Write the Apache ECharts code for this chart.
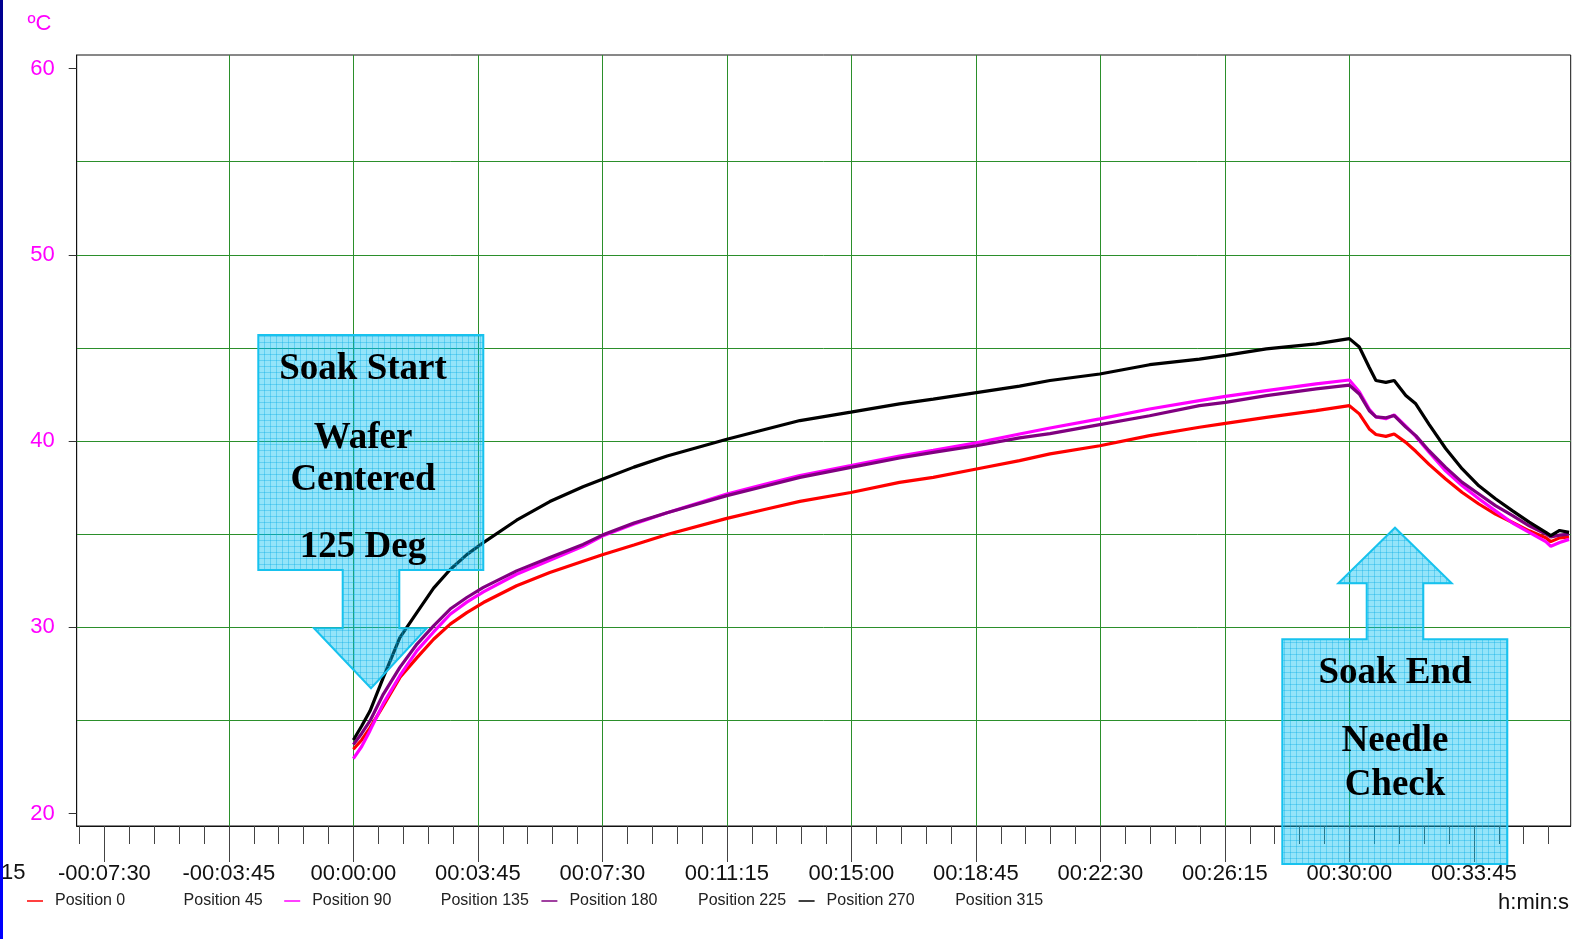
<!DOCTYPE html>
<html><head><meta charset="utf-8">
<script src="https://cdn.jsdelivr.net/npm/echarts@6/dist/echarts.min.js"></script>
<style>html,body{margin:0;padding:0;background:#fff;overflow:hidden;} #c{width:1585px;height:939px;}</style>
</head><body><div id="c"></div>
<script>
// time in seconds relative to soak start
const times = [0, 15, 30, 54, 84, 115, 145, 175, 205, 235, 295, 355, 415, 450, 507, 567, 675, 747, 807, 899, 987, 1048, 1126, 1204, 1259, 1349, 1439, 1529, 1576, 1650, 1740, 1800, 1818, 1836, 1848, 1866, 1881, 1902, 1920, 1944, 1974, 2004, 2034, 2064, 2095, 2125, 2155, 2164, 2180, 2197];
const pos0 = [23.45, 23.95, 24.6, 25.78, 27.3, 28.37, 29.36, 30.17, 30.79, 31.33, 32.23, 32.94, 33.55, 33.9, 34.42, 34.98, 35.85, 36.35, 36.76, 37.24, 37.78, 38.05, 38.5, 38.95, 39.31, 39.75, 40.29, 40.74, 40.95, 41.27, 41.63, 41.9, 41.46, 40.65, 40.35, 40.25, 40.38, 39.93, 39.45, 38.75, 37.96, 37.24, 36.62, 36.08, 35.63, 35.18, 34.81, 34.6, 34.8, 34.85];
const pos90 = [22.95, 23.6, 24.45, 25.9, 27.4, 28.75, 29.75, 30.7, 31.35, 31.9, 32.85, 33.6, 34.35, 34.9, 35.55, 36.15, 37.15, 37.7, 38.15, 38.68, 39.2, 39.5, 39.9, 40.38, 40.7, 41.19, 41.72, 42.17, 42.4, 42.71, 43.07, 43.28, 42.65, 41.7, 41.3, 41.2, 41.4, 40.8, 40.25, 39.4, 38.4, 37.6, 36.9, 36.25, 35.6, 35.1, 34.6, 34.35, 34.55, 34.72];
const pos180 = [23.7, 24.3, 24.97, 26.4, 27.85, 29.1, 30.08, 30.98, 31.6, 32.14, 33.03, 33.75, 34.45, 34.95, 35.6, 36.15, 37.07, 37.6, 38.05, 38.59, 39.09, 39.39, 39.75, 40.17, 40.4, 40.88, 41.36, 41.9, 42.08, 42.44, 42.8, 43.0, 42.53, 41.63, 41.3, 41.25, 41.37, 40.75, 40.29, 39.48, 38.59, 37.78, 37.16, 36.53, 35.99, 35.45, 35.01, 34.85, 34.95, 35.0];
const pos270 = [23.95, 24.7, 25.5, 27.3, 29.45, 30.8, 32.1, 33.1, 33.9, 34.55, 35.75, 36.75, 37.55, 37.95, 38.6, 39.2, 40.1, 40.65, 41.1, 41.55, 42.0, 42.25, 42.6, 42.95, 43.25, 43.6, 44.1, 44.4, 44.6, 44.95, 45.22, 45.5, 45.05, 43.95, 43.25, 43.15, 43.25, 42.45, 42.0, 40.9, 39.6, 38.5, 37.6, 36.9, 36.25, 35.65, 35.1, 34.92, 35.2, 35.1];
const seriesNames = ['Position 0', 'Position 45', 'Position 90', 'Position 135', 'Position 180', 'Position 225', 'Position 270', 'Position 315'];
const seriesValues = [pos0, [], pos90, [], pos180, [], pos270, []];
const seriesColors = ['#FF0000', 'rgba(0,0,0,0)', '#FF00FF', 'rgba(0,0,0,0)', '#800080', 'rgba(0,0,0,0)', '#000000', 'rgba(0,0,0,0)'];
const xMajorTicks = [-450, -225, 0, 225, 450, 675, 900, 1125, 1350, 1575, 1800, 2025];
const yGridValues = [20, 25, 30, 35, 40, 45, 50, 55, 60];
const yLabelValues = [20, 30, 40, 50, 60];
const yUnit = 'ºC';
const xUnit = 'h:min:s';
const cutLabel = -675;
const calloutStart = ['Soak Start', 'Wafer', 'Centered', '125 Deg'];
const calloutEnd = ['Soak End', 'Needle', 'Check'];

function pad(n){ return (n < 10 ? '0' : '') + n; }
function fmt(v){
  const sign = v < 0 ? '-' : '';
  const a = Math.round(Math.abs(v));
  return sign + pad(Math.floor(a / 3600)) + ':' + pad(Math.floor(a % 3600 / 60)) + ':' + pad(a % 60);
}

// hatched cyan pattern for callouts
const pc = document.createElement('canvas');
pc.width = 6; pc.height = 6;
const g = pc.getContext('2d');
g.fillStyle = 'rgba(0,190,240,0.42)';
g.fillRect(0, 0, 6, 6);
g.fillStyle = 'rgba(0,170,230,0.35)';
g.fillRect(0, 0, 6, 1);
g.fillRect(0, 0, 1, 6);
const pattern = { image: pc, repeat: 'repeat' };

const SANS = '"Liberation Sans", Arial, sans-serif';
const SERIF = '"Liberation Serif", "Times New Roman", serif';
const GREEN = '#2b8f2b';

const GL = 76.7, GR = 14.3, GT = 55, GB = 113;
const XMIN = -500, XMAX = 2200, YMIN = 19.33, YMAX = 60.73;

const chart = echarts.init(document.getElementById('c'), null, { renderer: 'canvas' });

const series = seriesNames.map((name, k) => ({
  name: name,
  type: 'line',
  symbol: 'none',
  showSymbol: false,
  yAxisIndex: 0,
  data: seriesValues[k].map((v, i) => [times[i], v]),
  lineStyle: { color: seriesColors[k], width: 3.2 },
  itemStyle: { color: seriesColors[k] },
  emphasis: { disabled: true },
  z: 2 + k
}));

const legends = seriesNames.map((name, k) => ({
  show: true, left: 27 + k * 128.6, top: 893, padding: 0,
  icon: 'rect', itemWidth: 16, itemHeight: 1.5, itemGap: 0,
  data: [name], selectedMode: false,
  textStyle: { fontSize: 16, color: '#222', fontFamily: SANS, padding: [0, 0, 0, 7] }
}));

// x position of the clipped leftmost label (outside the drawn axis range)
const cutX = GL + (cutLabel - XMIN) / (XMAX - XMIN) * (1585 - GL - GR);

const graphics = [
  { type: 'rect', shape: { x: 0, y: 0, width: 3, height: 939 }, style: { fill: new echarts.graphic.LinearGradient(0, 0, 0, 1, [{ offset: 0, color: '#00008f' }, { offset: 1, color: '#0000ff' }]) }, z: 50 },
  { type: 'text', x: 27.5, y: 24, style: { text: yUnit, font: '22px ' + SANS, fill: '#FF00FF', align: 'left', verticalAlign: 'middle' }, z: 50 },
  { type: 'text', x: 1569, y: 903, style: { text: xUnit, font: '22px ' + SANS, fill: '#111', align: 'right', verticalAlign: 'middle' }, z: 50 },
  { type: 'text', x: cutX, y: 873, style: { text: fmt(cutLabel), font: '22px ' + SANS, fill: '#111', align: 'center', verticalAlign: 'middle' }, z: 40 },
  { type: 'polygon', shape: { points: [[258.3,335],[483.3,335],[483.3,570],[399.3,570],[399.3,628.3],[426.7,628.3],[371,688.3],[314,628.3],[342.7,628.3],[342.7,570],[258.3,570]] }, style: { fill: pattern, stroke: '#17c2ee', lineWidth: 2 }, z: 100 },
  { type: 'polygon', shape: { points: [[1282.3,864],[1282.3,639.3],[1366.7,639.3],[1366.7,583.3],[1338.3,583.3],[1395,527.7],[1451.7,583.3],[1423.3,583.3],[1423.3,639.3],[1507.3,639.3],[1507.3,864]] }, style: { fill: pattern, stroke: '#17c2ee', lineWidth: 2 }, z: 100 }
];
const startY = [369, 438, 480, 547];
calloutStart.forEach((t, i) => graphics.push({ type: 'text', x: 363, y: startY[i], style: { text: t, font: 'bold 37px ' + SERIF, fill: '#000', align: 'center', verticalAlign: 'middle' }, z: 110 }));
const endY = [673, 741.5, 785];
calloutEnd.forEach((t, i) => graphics.push({ type: 'text', x: 1395, y: endY[i], style: { text: t, font: 'bold 37px ' + SERIF, fill: '#000', align: 'center', verticalAlign: 'middle' }, z: 110 }));

chart.setOption({
  animation: false,
  backgroundColor: '#ffffff',
  grid: { left: GL, right: GR, top: GT, bottom: GB, show: true, borderColor: '#111', borderWidth: 1, backgroundColor: 'transparent', containLabel: false },
  xAxis: {
    type: 'value', min: XMIN, max: XMAX, minInterval: 225, maxInterval: 225,
    axisLine: { show: true, onZero: false, lineStyle: { color: '#111', width: 1 } },
    axisTick: { show: true, length: 36, customValues: xMajorTicks, lineStyle: { color: '#444' } },
    minorTick: { show: true, splitNumber: 5, length: 18, lineStyle: { color: '#444' } },
    axisLabel: { customValues: xMajorTicks, formatter: fmt, fontSize: 22, color: '#111', margin: 36.5, fontFamily: SANS },
    splitLine: { show: true, showMinLine: false, showMaxLine: false, lineStyle: { color: GREEN, width: 1 } },
    minorSplitLine: { show: false }
  },
  yAxis: [{
    type: 'value', min: YMIN, max: YMAX, minInterval: 5, maxInterval: 5,
    axisLine: { show: true, onZero: false, lineStyle: { color: '#111', width: 1 } },
    axisTick: { show: false, customValues: yGridValues },
    axisLabel: { show: false, customValues: yGridValues },
    splitLine: { show: true, showMinLine: false, showMaxLine: false, lineStyle: { color: GREEN, width: 1 } }
  }, {
    type: 'value', min: YMIN, max: YMAX, position: 'left', offset: 0,
    axisLine: { show: false, onZero: false },
    axisTick: { show: true, length: 8, customValues: yLabelValues, lineStyle: { color: '#333' } },
    axisLabel: { customValues: yLabelValues, color: '#FF00FF', fontSize: 22, margin: 22, fontFamily: SANS },
    splitLine: { show: false }
  }],
  legend: legends,
  series: series,
  graphic: graphics
});
</script></body></html>
